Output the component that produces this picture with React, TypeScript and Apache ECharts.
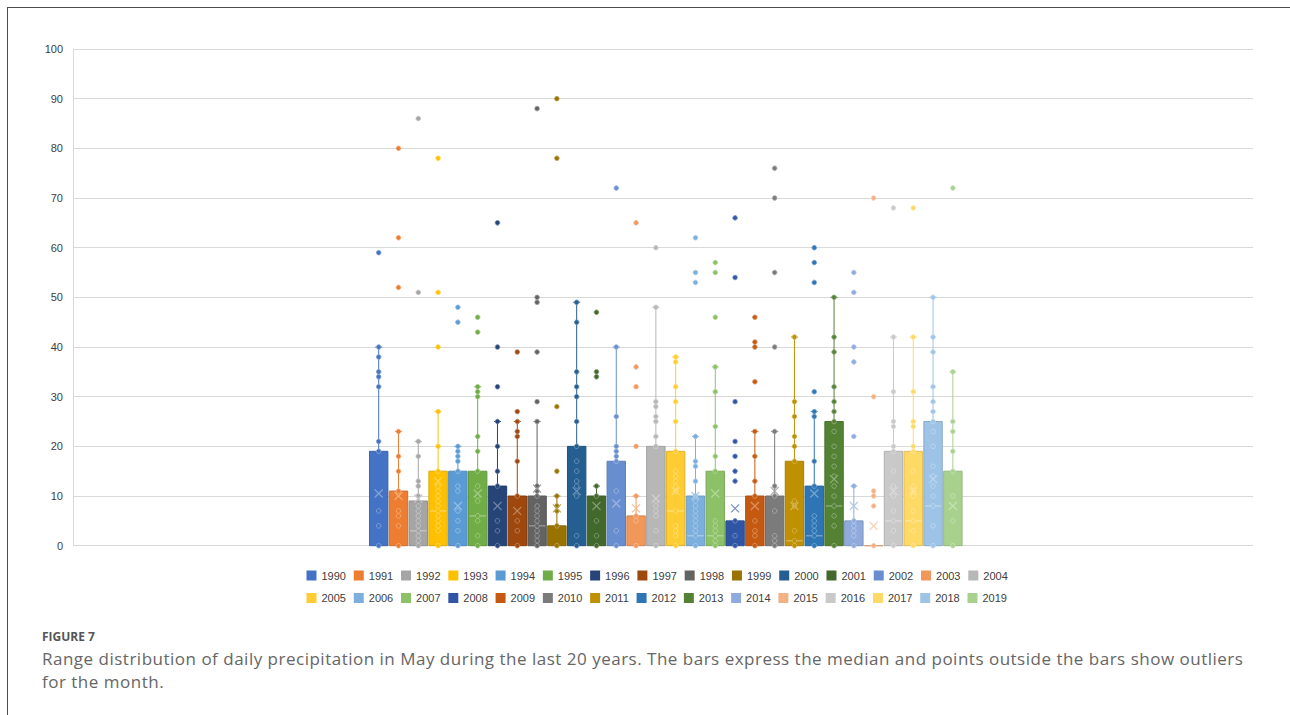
import React, { useEffect, useRef } from "react";
import * as echarts from "echarts";

const years = [
  "1990", "1991", "1992", "1993", "1994", "1995", "1996", "1997", "1998", "1999",
  "2000", "2001", "2002", "2003", "2004", "2005", "2006", "2007", "2008", "2009",
  "2010", "2011", "2012", "2013", "2014", "2015", "2016", "2017", "2018", "2019",
];

const colors = [
  "#4472C4", "#ED7D31", "#A5A5A5", "#FFC000", "#5B9BD5", "#70AD47",
  "#264478", "#9E480E", "#636363", "#997300", "#255E91", "#43682B",
  "#698ED0", "#F1975A", "#B7B7B7", "#FFCD33", "#7CAFDD", "#8CC168",
  "#2F55A4", "#C65911", "#7B7B7B", "#BF9000", "#2E75B6", "#548235",
  "#8FAADC", "#F4B183", "#C9C9C9", "#FFD966", "#9DC3E6", "#A9D18E",
];

// box top (Q3); box bottom (Q1) is 0 for every year
const q3 = [19, 11, 9, 15, 15, 15, 12, 10, 10, 4, 20, 10, 17, 6, 20, 19, 10, 15, 5, 10, 10, 17, 12, 25, 5, 0, 19, 19, 25, 15];
const medians = [0, 0, 3, 7, 0, 6, 0, 0, 4, 0, 0, 0, 0, 0, 0, 7, 2, 2, 0, 0, 0, 1, 2, 8, 0, 0, 5, 5, 8, 0];
const means = [10.5, 10, 9.5, 13, 8, 10.5, 8, 7, 11.5, 7.5, 11, 8, 8.5, 7.5, 9.5, 11, 10, 10.5, 7.5, 8, 11, 8, 10.5, 13.4, 8, 4, 11, 11, 13.4, 8];
const whiskerTop = [40, 23, 21, 27, 20, 32, 25, 25, 25, 10, 49, 12, 40, 10, 48, 38, 22, 36, 5, 23, 23, 42, 27, 50, 12, 0, 42, 42, 50, 35];

const innerPoints = [
  [0, 4, 7, 19, 21, 32, 34, 35, 38, 40],
  [0, 4, 6, 7, 11, 15, 18, 23],
  [0, 1, 2, 3, 4, 5, 6, 7, 8, 10, 12, 13, 18, 21],
  [0, 3, 4, 5, 6, 7, 8, 9, 10, 11, 12, 15, 20, 27],
  [0, 3, 5, 7, 11, 12, 15, 17, 18, 19, 20],
  [0, 2, 5, 6, 9, 10, 12, 15, 19, 22, 30, 31, 32],
  [0, 3, 5, 12, 15, 20, 25],
  [0, 3, 5, 10, 17, 22, 23, 25],
  [0, 1, 2, 3, 4, 5, 6, 7, 8, 10, 11, 12, 25],
  [0, 4, 7, 8, 10],
  [0, 2, 10, 12, 13, 15, 17, 20, 25, 30, 32, 35, 45, 49],
  [0, 2, 5, 10, 12],
  [0, 3, 11, 17, 18, 19, 20, 26, 40],
  [0, 5, 6, 10],
  [0, 3, 6, 7, 8, 9, 20, 22, 25, 26, 28, 29, 48],
  [0, 2, 3, 4, 7, 11, 12, 13, 14, 15, 19, 25, 29, 32, 37, 38],
  [0, 2, 3, 4, 5, 6, 7, 8, 9, 10, 13, 16, 17, 22],
  [0, 1, 2, 3, 4, 5, 15, 18, 24, 31, 36],
  [0, 2, 5],
  [0, 2, 3, 5, 10, 13, 18, 23],
  [0, 1, 2, 7, 10, 12, 23],
  [0, 1, 3, 8, 9, 17, 20, 22, 26, 29, 42],
  [0, 2, 3, 4, 5, 6, 12, 17, 26, 27],
  [0, 4, 6, 8, 10, 12, 14, 16, 18, 20, 23, 25, 27, 29, 32, 39, 42, 50],
  [0, 2, 3, 4, 5, 12],
  [0],
  [0, 3, 5, 7, 10, 12, 15, 19, 20, 24, 25, 31, 42],
  [0, 3, 5, 7, 10, 11, 12, 15, 19, 20, 24, 25, 31, 42],
  [0, 4, 8, 10, 12, 14, 16, 20, 23, 25, 27, 29, 32, 39, 42, 50],
  [0, 5, 10, 15, 19, 23, 25, 35],
];

const outliers = [
  [59], [52, 62, 80], [51, 86], [40, 51, 78], [45, 48], [43, 46], [32, 40, 65], [27, 39],
  [29, 39, 49, 50, 88], [15, 28, 78, 90], [], [34, 35, 47], [72], [20, 32, 36, 65], [60],
  [], [53, 55, 62], [46, 55, 57], [13, 15, 18, 21, 29, 54, 66], [33, 40, 41, 46],
  [40, 55, 70, 76], [], [31, 53, 57, 60], [], [22, 37, 40, 51, 55], [8, 10, 11, 30, 70],
  [68], [68], [], [72],
];

const yTicks = { min: 0, max: 100, interval: 10 };

function mix(hex: string, target: string, t: number): string {
  const p = (h: string) => [1, 3, 5].map((k) => parseInt(h.slice(k, k + 2), 16));
  const a = p(hex);
  const b = p(target);
  const r = a.map((v, k) => Math.round(v + (b[k] - v) * t));
  return "#" + r.map((v) => v.toString(16).padStart(2, "0")).join("");
}

const renderItem = (params: any, api: any) => {
  const i = api.value(0) as number;
  const c = colors[i];
  const light = mix(c, "#ffffff", 0.35);
  const dark = mix(c, "#000000", 0.12);
  const [cx, yZero] = api.coord([i, 0]);
  const bw = api.size([1, 0])[0] * 0.93;
  const yQ3 = api.coord([i, q3[i]])[1];
  const yW = api.coord([i, whiskerTop[i]])[1];
  const yMean = api.coord([i, means[i]])[1];
  const children: any[] = [];
  if (whiskerTop[i] > q3[i]) {
    children.push({ type: "line", shape: { x1: cx, y1: yQ3, x2: cx, y2: yW }, style: { stroke: c, lineWidth: 1 } });
    children.push({ type: "line", shape: { x1: cx - 3.5, y1: yW, x2: cx + 3.5, y2: yW }, style: { stroke: c, lineWidth: 1 } });
  }
  children.push({
    type: "rect",
    shape: { x: cx - bw / 2, y: yQ3, width: bw, height: yZero - yQ3 },
    style: { fill: c, stroke: dark, lineWidth: 1 },
  });
  if (medians[i] > 0) {
    const yM = api.coord([i, medians[i]])[1];
    children.push({ type: "line", shape: { x1: cx - bw / 2 + 1, y1: yM, x2: cx + bw / 2 - 1, y2: yM }, style: { stroke: light, lineWidth: 1.3 } });
  }
  const pts = innerPoints[i].concat(outliers[i]);
  pts.forEach((v) => {
    const y = api.coord([i, v])[1];
    children.push({ type: "circle", shape: { cx, cy: y, r: 2.3 }, style: { fill: c, stroke: light, lineWidth: 0.9 } });
  });
  const h = 4;
  children.push({ type: "line", shape: { x1: cx - h, y1: yMean - h, x2: cx + h, y2: yMean + h }, style: { stroke: light, lineWidth: 1.2 } });
  children.push({ type: "line", shape: { x1: cx - h, y1: yMean + h, x2: cx + h, y2: yMean - h }, style: { stroke: light, lineWidth: 1.2 } });
  return { type: "group", children };
};

export default function App() {
  const ref = useRef<HTMLDivElement>(null);
  useEffect(() => {
    if (!ref.current) return;
    const chart = echarts.init(ref.current, undefined, { renderer: "svg" });
    const legendText = { fontSize: 11, color: "#404040", fontFamily: "Liberation Sans", width: 24 };
    const legendBase = {
      left: 306.5,
      padding: 0,
      itemWidth: 10,
      itemHeight: 10,
      itemGap: 7.8,
      icon: "rect",
      selectedMode: false,
      textStyle: legendText,
    };
    chart.setOption({
      animation: false,
      grid: { left: 73, right: 37, top: 49, bottom: 64.3 },
      xAxis: { type: "value", min: -15.44, max: 44.16, show: false },
      yAxis: {
        type: "value",
        min: yTicks.min,
        max: yTicks.max,
        interval: yTicks.interval,
        axisLine: { show: true, onZero: false, lineStyle: { color: "#d9d9d9" } },
        axisTick: { show: false },
        axisLabel: { fontSize: 11, color: "#404040", fontFamily: "Liberation Sans", margin: 10 },
        splitLine: { lineStyle: { color: "#d9d9d9" } },
      },
      legend: [
        { ...legendBase, data: years.slice(0, 15), top: 570 },
        { ...legendBase, data: years.slice(15), top: 592.5 },
      ],
      series: years.map((y, i) => ({
        type: "custom",
        name: y,
        renderItem,
        itemStyle: { color: colors[i] },
        encode: { x: 0, y: 1 },
        data: [[i, whiskerTop[i]]],
      })),
    });
    return () => chart.dispose();
  }, []);

  return (
    <div style={{ position: "absolute", left: 0, top: 0, width: 1290, height: 715, background: "#fff", overflow: "hidden" }}>
      <div
        style={{
          position: "absolute",
          left: 7,
          top: 7,
          width: 1283,
          height: 708,
          borderTop: "1px solid #4d4d4d",
          borderLeft: "1px solid #4d4d4d",
          boxSizing: "border-box",
        }}
      />
      <div ref={ref} style={{ position: "absolute", left: 0, top: 0, width: 1290, height: 610 }} />
      <div
        style={{
          position: "absolute",
          left: 42,
          top: 630,
          fontFamily: "'Open Sans', sans-serif",
          fontSize: 12,
          lineHeight: "14px",
          fontWeight: 700,
          color: "#555",
          whiteSpace: "nowrap",
        }}
      >
        FIGURE 7
      </div>
      <div
        style={{
          position: "absolute",
          left: 42,
          top: 648,
          fontFamily: "'Open Sans', sans-serif",
          fontSize: 17,
          letterSpacing: "0.5px",
          lineHeight: "22.5px",
          color: "#666",
          whiteSpace: "nowrap",
        }}
      >
        Range distribution of daily precipitation in May during the last 20 years. The bars express the median and points outside the bars show outliers
        <br />
        for the month.
      </div>
    </div>
  );
}
